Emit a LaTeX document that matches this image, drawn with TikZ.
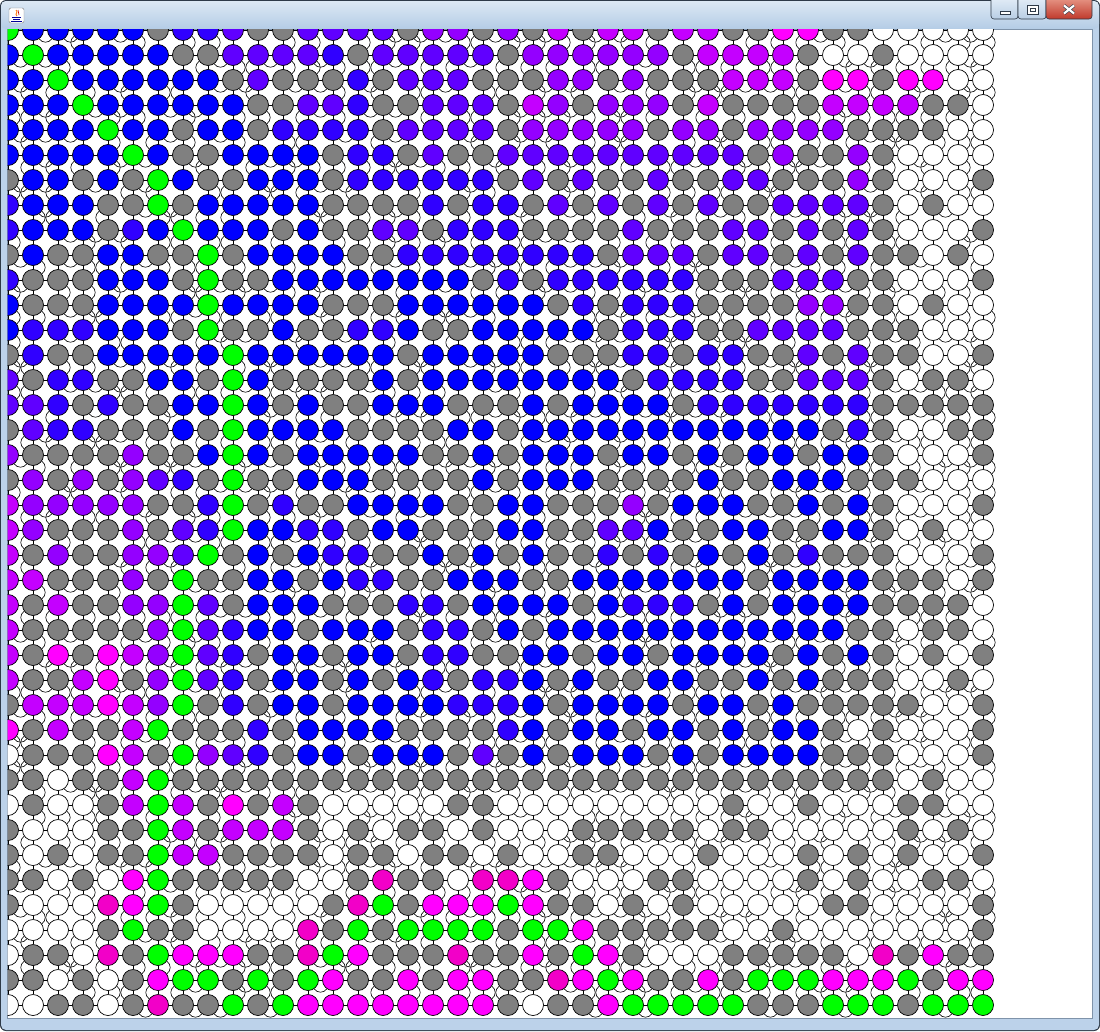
\documentclass[tikz,border=0pt]{standalone}
\usepackage{tikz}
\usetikzlibrary{positioning}
\pgfdeclarelayer{edgelayer}
\pgfsetlayers{edgelayer,main}

% cell colours, one letter each
\definecolor{cellB}{HTML}{0000FF}
\definecolor{cellb}{HTML}{3000FF}
\definecolor{cellv}{HTML}{6000FF}
\definecolor{cellp}{HTML}{9400FF}
\definecolor{cellq}{HTML}{C400FF}
\definecolor{cellm}{HTML}{FF00FF}
\definecolor{cellr}{HTML}{F200C8}
\definecolor{cellG}{HTML}{00FF00}
\definecolor{cellg}{HTML}{808080}
\definecolor{cellw}{HTML}{FFFFFF}
% window frame
\definecolor{frameline}{HTML}{2E3A48}
\definecolor{titletop}{HTML}{DCE8F4}
\definecolor{titlebot}{HTML}{B4CCE6}
\definecolor{framebody}{HTML}{BCD2EA}
\definecolor{clientedge}{HTML}{7F93AA}
\definecolor{closetop}{HTML}{E89A8A}
\definecolor{closebot}{HTML}{C0392B}
\definecolor{btntop}{HTML}{E4EEF8}
\definecolor{btnbot}{HTML}{B8CDE4}

\newcount\cellcol
\def\cellrow#1#2{\global\cellcol=0 \def\currow{#1}\readcells#2\relax}
\def\readcells#1{\ifx#1\relax\else
    \edef\cellname{n-\currow-\the\cellcol}%
    \node[cell,fill=cell#1] (\cellname) at ({8+25*\the\cellcol},{30+25*\currow}) {};
    \global\advance\cellcol by 1
  \expandafter\readcells\fi}

\begin{document}
\begin{tikzpicture}[x=1pt,y=-1pt,
    cell/.style={circle,draw=black,line width=0.7pt,minimum size=21pt,inner sep=0pt},
    link/.style={draw=black,line width=0.6pt},
    winbtn/.style={draw=frameline,line width=0.6pt,rounded corners=3pt},
  ]
  \useasboundingbox (0,0) rectangle (1100,1031);

  % Window frame
  \begin{pgfonlayer}{edgelayer}
    \fill[frameline,rounded corners=6pt] (0,0) rectangle (1100,1031);
    \fill[framebody,rounded corners=5pt] (1,1) rectangle (1099,1030);
    \shade[top color=titletop,bottom color=titlebot,rounded corners=5pt] (1,1) rectangle (1099,29);
    \fill[white] (7.5,29) rectangle (1092,1018);
    \draw[clientedge,line width=0.8pt] (7.5,29) rectangle (1092,1018);
  \end{pgfonlayer}

  % Title bar icon
  \draw[gray,fill=white,rounded corners=1.5pt] (9,8) rectangle (24,23);
  \draw[orange!90!red,line width=0.9pt] (16,10) .. controls (19,12) and (14,14) .. (17,16);
  \draw[red!80!black,line width=0.6pt] (18,10) .. controls (20,12) and (17,13) .. (19,15);
  \draw[blue!60!black,line width=0.8pt] (12,17) -- (21,17) (13,19.5) -- (20,19.5) (11,21.5) -- (22,21.5);

  % Title bar buttons
  \shade[winbtn,top color=btntop,bottom color=btnbot] (991,-3) rectangle (1018,19);
  \shade[winbtn,top color=btntop,bottom color=btnbot] (1018,-3) rectangle (1046,19);
  \shade[winbtn,top color=closetop,bottom color=closebot] (1046,-3) rectangle (1092,19);
  \draw[frameline,fill=white,line width=0.5pt] (1000,11) rectangle (1010,14);
  \draw[frameline,fill=white,line width=0.5pt] (1027,5) rectangle (1038,14);
  \draw[frameline,line width=0.5pt] (1030,8) rectangle (1035,11);
  \draw[frameline,line width=3.4pt] (1064,5.5) -- (1074,13.5) (1074,5.5) -- (1064,13.5);
  \draw[white,line width=2.2pt] (1064,5.5) -- (1074,13.5) (1074,5.5) -- (1064,13.5);

  % Grid of cells
  \begin{scope}
    \clip (7.5,29) rectangle (1092,1018);
    \cellrow{0}{GBBBBBgbbvggvv vvgppgpgqgqqg qqggmmggwwwww}
    \cellrow{1}{BGBBBBBggvvvvb gvvvvvgpppppp gqqqqgwwgwwww}
    \cellrow{2}{BBGBBBBBBgvggg bgvvvgggppgpg ggqqqgmmgmmww}
    \cellrow{3}{BBBGBBBBBBggvv bggvvvgqpgppp gqggggqqqqggw}
    \cellrow{4}{BBBBGBBgBBgbbb bgvvvvgpppppg ppgppppggggww}
    \cellrow{5}{BBBBBGBggBBBBg bbgvggvvvvvvv vvvgpggpgwwww}
    \cellrow{6}{gBBgBgGBggBBBg bbbbbbgvgvggv ggvvgggpgwwwg}
    \cellrow{7}{bBBBggGgBBBBBg gggbgbbgvgvgv gvggvvvvgwgww}
    \cellrow{8}{bBBBgbBGBBBgBg gvvgbbbggggvg ggvvgvgvgwwwg}
    \cellrow{9}{gBggBBggGgBBBB ggbbbbbbbbgvv vgvvgvgvggwgw}
    \cellrow{10}{bgggBBBgGggBBB BBBBBgbgbbbbb bgggvvvggwwwg}
    \cellrow{11}{BgggBBBBGBBBBg ggBBBBBBgbgbb bggggppggwgww}
    \cellrow{12}{BbbbBBBgGggBgg bbBggBBBBBgbb bggvvvvgggwww}
    \cellrow{13}{gbggBBBBBGBBBB BBgBBBBBgggbb gbbggvgvggwwg}
    \cellrow{14}{vgbbggBBgGBggg gBgBBBBBBBBgb bbbggvvvgwggw}
    \cellrow{15}{vvbgbggBBGBgBg gBBBgggBgBBBB gbbbbbbbggggg}
    \cellrow{16}{gvbbgggBgGBBBB ggggBBgBBBBBB BBBBBBgbgwwgg}
    \cellrow{17}{pggggpggBGBgBB BBBggBgBBBgBB gBgBBgBBgwwwg}
    \cellrow{18}{gpgpgpvbgGggBB BggggBgBBBggg gBggBBBgggwww}
    \cellrow{19}{qpppppggbGgbgg BBBBggBBgggpg BBBggBgBgwwwg}
    \cellrow{20}{qpgggpgvbGBBbb gBBgggBBggvvB ggBBggBBgwgww}
    \cellrow{21}{qgpggppvGgBgBb bggBgBgBggbgb gBgBgbgggwwwg}
    \cellrow{22}{qqgggpgGggBBgB bbggBBBggBBBB BBBgBBBBgggwg}
    \cellrow{23}{qgqggppGvgBBBg ggbbgBBBBgBbb bgBgBBBBggggw}
    \cellrow{24}{qgggggpGvbBBgB BBgbbgBgBBBBB BBBBBBBggwggw}
    \cellrow{25}{qgmgmqpGvbgBBg BBgbbggBBgBBg BBBBgBgBgwgwg}
    \cellrow{26}{qggqmgpGvbgBBg BgBbgbbBgBggB BggBgBgggwwgw}
    \cellrow{27}{gqqqmqpGgbgBBg BBBBbbbBgBBBB gBBgBgggggwwg}
    \cellrow{28}{mgqggqGgggbgBB BBggggbBgBBgB BgBgBBgwgwwwg}
    \cellrow{29}{wgggmqgGpvbgBB gBBBgvgBgBBBg BgBBBBgggwwwg}
    \cellrow{30}{ggwggqGggggggg ggggggggggggg gggggggggwgww}
    \cellrow{31}{wgwwgqGqgmgqgw wwwwggwwwwwww wwgwwgwwwggww}
    \cellrow{32}{gwwwggGqgqqqgw gwggwgwwwgggg gwggwwwwwgwgw}
    \cellrow{33}{gwgwggGqqggggw ggwggwgwwggww wgwwwgwgwgwwg}
    \cellrow{34}{ggwgwmGgggggww grggwrrmgwwwg gwwwwgwgwwggw}
    \cellrow{35}{gwwwrmGgwwwwwg rGgmmmGmggwgw gwwwwwggwwwwg}
    \cellrow{36}{wwwwgGggwwwwrg GgGGGGgGGmggg ggwwgwwwwwwwg}
    \cellrow{37}{wggwrgGmmmggrG mgggrggmgGmgw wwgggggwrgmgg}
    \cellrow{38}{ggwgwgmGGgGgGm ggmgmmggrmGmg gmgGGGmmmGgmm}
    \cellrow{39}{wwggwgrggGgGmm mmmmmmgwggmGG GGGgggGGGgGGG}
  \end{scope}

  % Links between neighbouring cells, behind the cells
  \pgfmathsetseed{7}
  \begin{pgfonlayer}{edgelayer}
    \begin{scope}
      \clip (7.5,29) rectangle (1092,1018);
      \foreach \r in {0,...,39} {
        \foreach \c [evaluate=\c as \d using int(\c+1)] in {0,...,38} {
          \draw[link] (n-\r-\c) -- (n-\r-\d);
          \draw[link] (n-\c-\r) -- (n-\d-\r);
          \pgfmathtruncatemacro\flip{3*rnd}
          \ifcase\flip
            \draw[link] (n-\r-\c) to[out=-55,in=-125,looseness=1.1] (n-\r-\d);
          \or
            \draw[link] (n-\c-\r) to[out=-35,in=35,looseness=1.1] (n-\d-\r);
          \or
            \draw[link] (n-\c-\r) to[out=-145,in=145,looseness=1.1] (n-\d-\r);
          \fi
        }
      }
    \end{scope}
  \end{pgfonlayer}
\end{tikzpicture}
\end{document}
